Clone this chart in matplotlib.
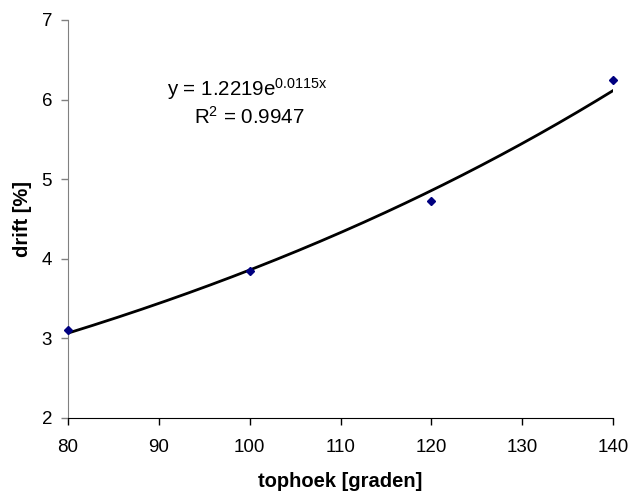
import numpy as np
import matplotlib
matplotlib.use("Agg")
import matplotlib.pyplot as plt

plt.rcParams['font.family'] = ['Liberation Sans', 'DejaVu Sans']
plt.rcParams['mathtext.fontset'] = 'custom'
plt.rcParams['mathtext.rm'] = 'Liberation Sans'
plt.rcParams['mathtext.it'] = 'Liberation Sans'

# data
tophoek = [80, 100, 120, 140]
drift = [3.11, 3.85, 4.73, 6.25]
fit_a = 1.2219
fit_b = 0.0115
x_ticks = [80, 90, 100, 110, 120, 130, 140]
y_ticks = [2, 3, 4, 5, 6, 7]

fig = plt.figure(figsize=(6.32, 4.95), dpi=100)
ax = fig.add_axes([0.1076, 0.1556, 0.8624, 0.804])

xs = np.linspace(min(tophoek), max(tophoek), 200)
ax.plot(xs, fit_a * np.exp(fit_b * xs), color='black', lw=2, zorder=2)
ax.plot(tophoek, drift, linestyle='none', marker='D', markersize=4.5,
        color='#000080', zorder=3, clip_on=False)

ax.set_xlim(80, 140)
ax.set_ylim(2, 7)
ax.set_xticks(x_ticks)
ax.set_yticks(y_ticks)
ax.spines['top'].set_visible(False)
ax.spines['right'].set_visible(False)
ax.spines['left'].set_color('#808080')
ax.spines['bottom'].set_color('black')
ax.tick_params(axis='y', colors='#808080', labelcolor='black', length=5, width=1, labelsize=13.5, pad=6.5)
ax.tick_params(axis='x', colors='black', length=5, width=1, labelsize=13.5, pad=10)

ax.set_xlabel('tophoek [graden]', fontsize=14.5, fontweight='bold', labelpad=12)
ax.set_ylabel('drift [%]', fontsize=14.5, fontweight='bold', labelpad=7)

fig.text(247 / 632, 1 - 96 / 495, 'y = 1.2219e$^{\\mathregular{0.0115x}}$', fontsize=14.8,
         ha='center', va='baseline')
fig.text(249 / 632, 1 - 124 / 495, 'R$^{\\mathregular{2}}$ = 0.9947', fontsize=14.8,
         ha='center', va='baseline')

fig.savefig('out.png', dpi=100)
